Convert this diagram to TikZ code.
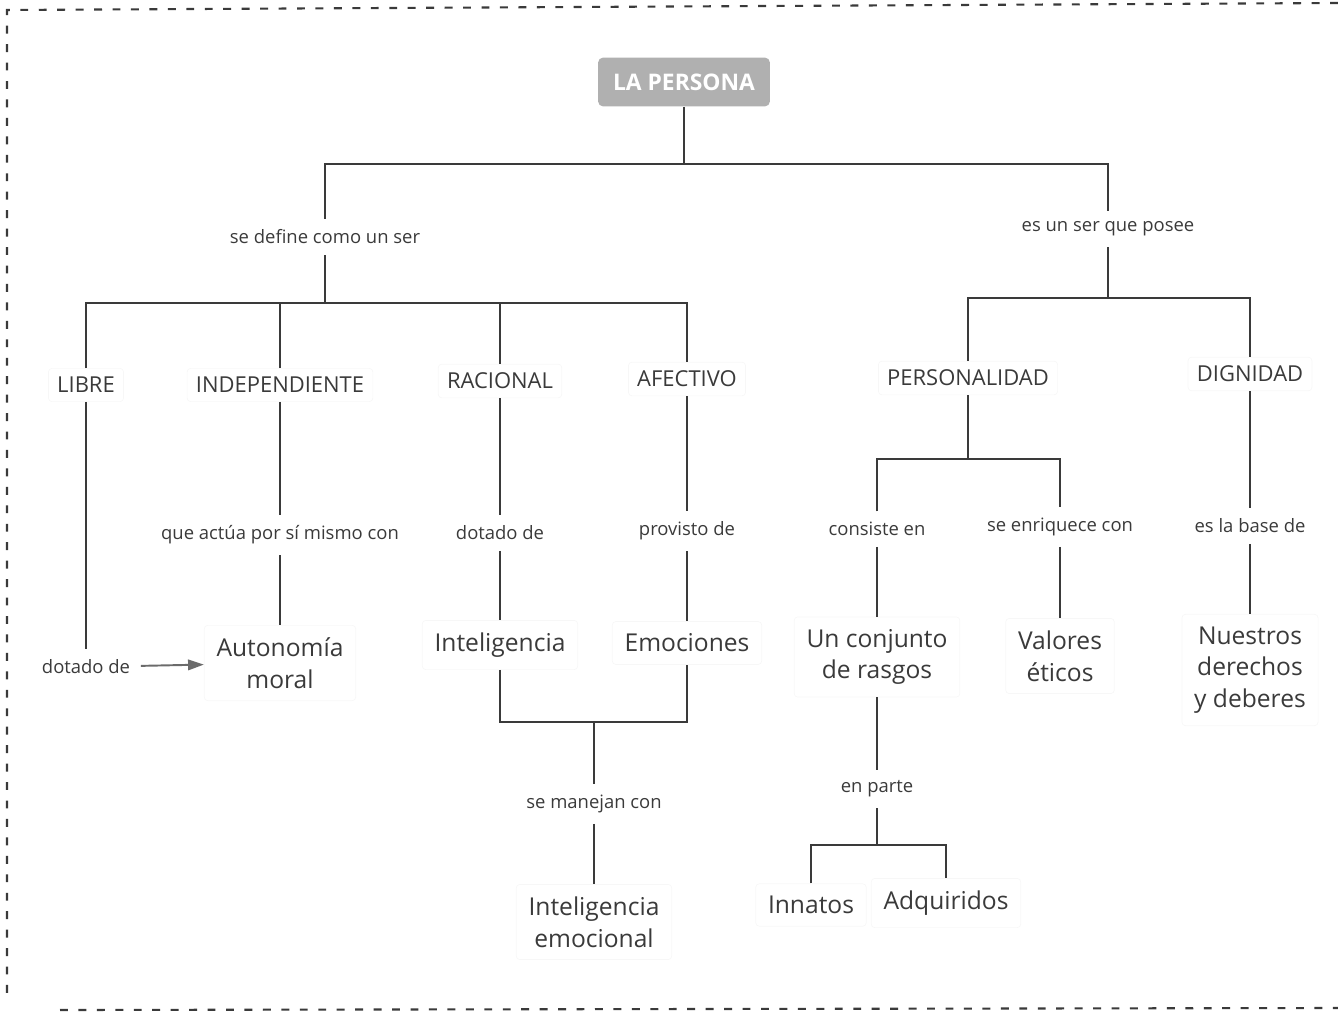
\documentclass[tikz,border=0pt]{standalone}
\usepackage{fontspec}
\setmainfont{Open Sans}
\usepackage{tikz}
\usetikzlibrary{arrows.meta}
\definecolor{ink}{RGB}{58,58,58}
\definecolor{rootgray}{RGB}{176,176,176}

\begin{document}
\begin{tikzpicture}[x=0.02cm,y=-0.02cm,
  frame/.style={draw=ink,line width=1.2pt,dash pattern=on 4.5pt off 6pt},
  conn/.style={draw=ink,line width=1.1pt},
  root/.style={fill=rootgray,text=white,font=\bfseries\fontsize{13}{15}\selectfont,
    rounded corners=3pt,minimum width=3.44cm,minimum height=0.98cm},
  concept/.style={text=ink,font=\fontsize{12.5}{15}\selectfont,inner sep=5pt,
    draw=black!3,rounded corners=2pt},
  idea/.style={text=ink,font=\fontsize{14}{18}\selectfont,align=center,inner sep=7pt,
    draw=black!3,rounded corners=2pt},
  link/.style={text=ink,font=\fontsize{10.5}{13}\selectfont,inner sep=6pt}]
\useasboundingbox (0,0) rectangle (1338,1017);

% dashed frame
\draw[frame] (1338,3) -- (7,10) -- (7,1000);
\draw[frame] (60,1010) -- (1338,1008);

% top
\node[root] (persona) at (684,82) {LA PERSONA};
\node[link] (define) at (325,237) {se define como un ser};
\node[link] (posee) at (1108,229) {es un ser que posee};
\coordinate (top) at (684,164);
\draw[conn] (persona) -- (top);
\draw[conn] (define) |- (top) -| (posee);

% left branch
\coordinate (b1) at (325,303);
\node[concept] (libre) at (86,385) {LIBRE};
\node[concept] (indep) at (280,385) {INDEPENDIENTE};
\node[concept] (racional) at (500,381) {RACIONAL};
\node[concept] (afectivo) at (687,379) {AFECTIVO};
\draw[conn] (define) -- (b1);
\draw[conn] (libre) |- (b1) -| (afectivo);
\draw[conn] (indep) -- (indep |- b1);
\draw[conn] (racional) -- (racional |- b1);

\node[link] (dotado1) at (86,667) {dotado de};
\node[link] (actua) at (280,535) {que actúa por sí mismo con};
\node[idea] (autonomia) at (280,663) {Autonomía\\moral};
\draw[conn] (libre) -- (dotado1);
\draw[conn] (indep) -- (actua) -- (autonomia);
\draw[conn,draw=ink!75,-{Triangle[length=9pt,width=6pt,fill=ink!75]}] (dotado1) -- (autonomia);

\node[link] (dotado2) at (500,533) {dotado de};
\node[idea] (intel) at (500,645) {Inteligencia};
\node[link] (provisto) at (687,531) {provisto de};
\node[idea] (emoc) at (687,643) {Emociones};
\draw[conn] (racional) -- (dotado2) -- (intel);
\draw[conn] (afectivo) -- (provisto) -- (emoc);

\coordinate (b3) at (594,722);
\node[link] (manejan) at (594,804) {se manejan con};
\node[idea] (intemo) at (594,922) {Inteligencia\\emocional};
\draw[conn] (intel) |- (b3) -| (emoc);
\draw[conn] (b3) -- (manejan) -- (intemo);

% right branch
\coordinate (b2) at (1108,298);
\node[concept] (personal) at (968,378) {PERSONALIDAD};
\node[concept] (dignidad) at (1250,374) {DIGNIDAD};
\draw[conn] (posee) -- (b2);
\draw[conn] (personal) |- (b2) -| (dignidad);

\coordinate (b4) at (968,459);
\node[link] (consiste) at (877,529) {consiste en};
\node[link] (enriquece) at (1060,527) {se enriquece con};
\node[idea] (rasgos) at (877,657) {Un conjunto\\de rasgos};
\node[idea] (valores) at (1060,656) {Valores\\éticos};
\draw[conn] (personal) -- (b4);
\draw[conn] (consiste) |- (b4) -| (enriquece);
\draw[conn] (consiste) -- (rasgos);
\draw[conn] (enriquece) -- (valores);

\coordinate (b5) at (877,845);
\node[link] (parte) at (877,789) {en parte};
\node[idea] (innatos) at (811,905) {Innatos};
\node[idea] (adquir) at (946,903) {Adquiridos};
\draw[conn] (rasgos) -- (parte) -- (b5);
\draw[conn] (innatos) |- (b5) -| (adquir);

\node[link] (base) at (1250,526) {es la base de};
\node[idea] (derechos) at (1250,670) {Nuestros\\derechos\\y deberes};
\draw[conn] (dignidad) -- (base) -- (derechos);
\end{tikzpicture}
\end{document}
